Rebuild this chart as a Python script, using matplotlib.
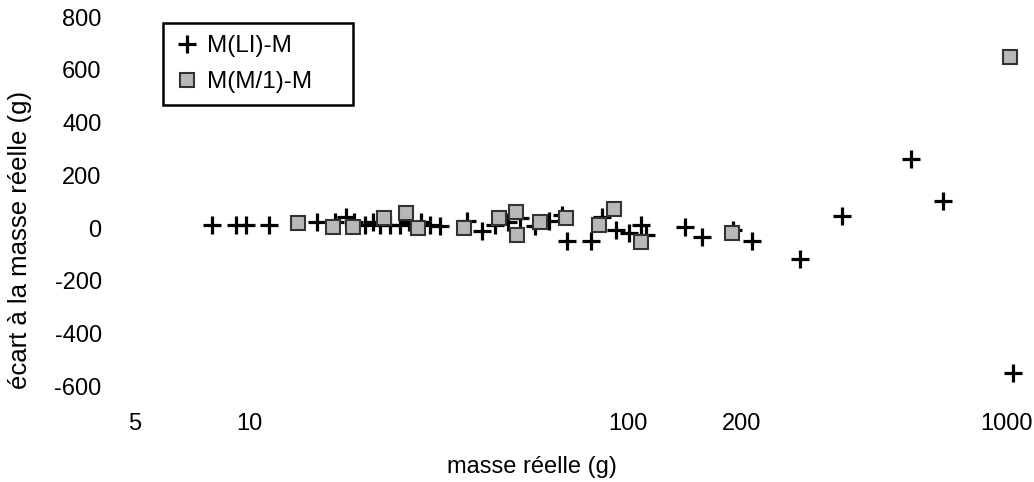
#!/usr/bin/env python3
"""Redraw the mass-deviation scatter (log mass axis) as out.png."""

import matplotlib

matplotlib.use("Agg")
import matplotlib.pyplot as plt
import matplotlib.ticker as mticker

# M(LI)-M : deviation of the LI estimate, per real mass (g)
li_mass = [
    7.99, 9.24, 9.82, 11.3, 15.1, 16.9, 18.0, 18.9, 20.3, 21.2,
    22.2, 23.6, 25.1, 26.4, 28.4, 30.1, 32.0, 37.5, 41.3, 44.7,
    48.3, 52.0, 56.9, 62.0, 67.0, 69.1, 79.9, 85.5, 93.0, 100.6,
    108.2, 111.5, 141, 157, 189, 212, 284, 368, 559, 679, 1037,
]
li_dev = [
    11, 11, 11, 11, 23, 23, 42, 23, 11, 23,
    11, 11, 11, 23, 23, 11, 8, 26, -11, 11,
    23, 38, 8, 26, 49, -49, -49, 42, -8, -19,
    11, -26, 4, -34, -8, -49, -117, 45, 261, 102, -549,
]

# M(M/1)-M : deviation of the M/1 estimate
m1_mass = [
    13.5, 16.7, 18.8, 22.7, 25.9, 28.0, 37.0, 45.8, 50.7, 51.1,
    58.7, 68.7, 83.9, 91.8, 108.2, 188, 1018,
]
m1_dev = [
    19, 4, 4, 38, 57, 0, 0, 38, 61, -26,
    23, 38, 11, 72, -53, -19, 647,
]

x_ticks = [5, 10, 100, 200, 1000]
y_ticks = [-600, -400, -200, 0, 200, 400, 600, 800]


def configure_matplotlib() -> None:
    plt.rcParams.update(
        {
            "font.family": ["Liberation Sans", "DejaVu Sans"],
            "font.size": 17,
            "axes.unicode_minus": False,
        }
    )


def main() -> None:
    configure_matplotlib()

    fig = plt.figure(figsize=(10.34, 4.82), dpi=100)
    ax = fig.add_axes([110 / 1034, 77 / 482, 920 / 1034, 388 / 482])

    ax.plot(
        li_mass, li_dev,
        linestyle="none", marker="+", markersize=13, markeredgewidth=2.3,
        color="black", label="M(LI)-M", zorder=3,
    )
    ax.plot(
        m1_mass, m1_dev,
        linestyle="none", marker="s", markersize=10, markeredgewidth=1.5,
        markerfacecolor="#b8b8b8", markeredgecolor="#333333",
        label="M(M/1)-M", zorder=4,
    )

    ax.set_xscale("log")
    ax.set_xlim(4.3, 1150)
    ax.set_ylim(-670, 800)
    ax.xaxis.set_major_locator(mticker.FixedLocator(x_ticks))
    ax.xaxis.set_major_formatter(mticker.FixedFormatter([str(t) for t in x_ticks]))
    ax.xaxis.set_minor_locator(mticker.NullLocator())
    ax.set_yticks(y_ticks)
    ax.tick_params(axis="both", length=0, labelsize=17)
    ax.tick_params(axis="x", pad=6)
    ax.tick_params(axis="y", pad=6)
    for spine in ax.spines.values():
        spine.set_visible(False)

    fig.text(20 / 1034, 1 - 240 / 482, "écart à la masse réelle (g)",
             rotation=90, ha="center", va="center", fontsize=18.5)
    fig.text(532 / 1034, 1 - 467 / 482, "masse réelle (g)",
             ha="center", va="center", fontsize=17)

    leg = ax.legend(
        loc="upper left",
        bbox_to_anchor=(163 / 1034, 1 - 107 / 482, 190 / 1034, 84 / 482),
        bbox_transform=fig.transFigure, mode="expand",
        fontsize=17.5, frameon=True, fancybox=False, framealpha=1,
        edgecolor="black", borderpad=0.5, labelspacing=0.58,
        handlelength=1.0, handletextpad=0.3, borderaxespad=0,
    )
    leg.get_frame().set_linewidth(1.8)

    fig.savefig("out.png", dpi=100, facecolor="white")
    plt.close(fig)


if __name__ == "__main__":
    main()
